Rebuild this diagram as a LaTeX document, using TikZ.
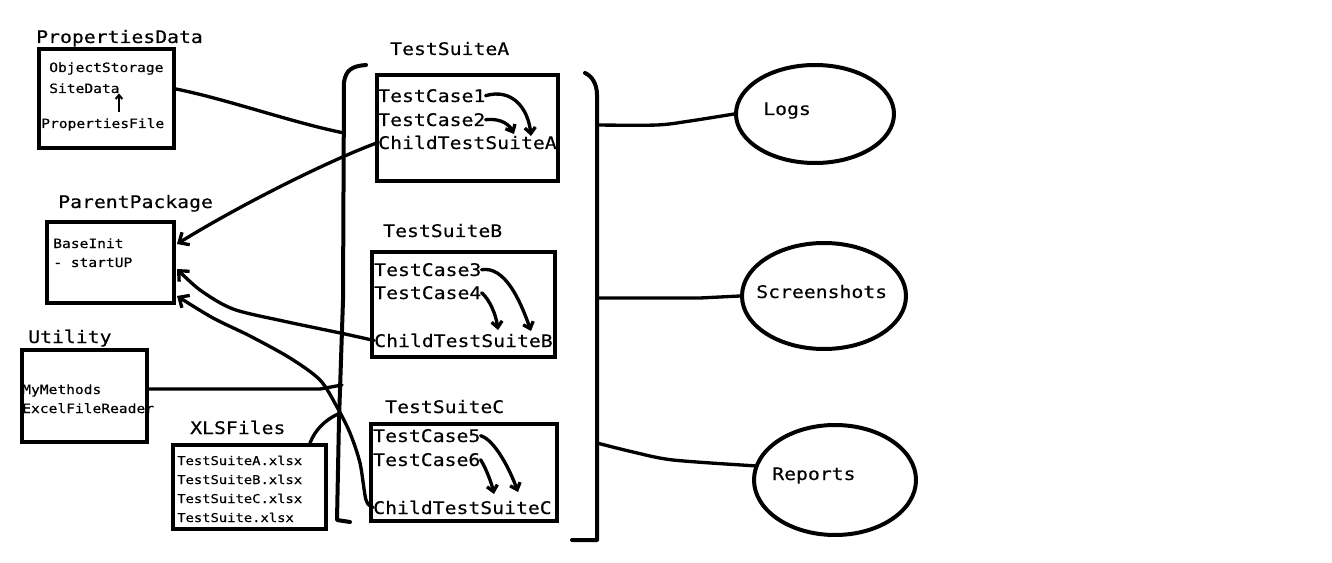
\documentclass[tikz,border=0pt]{standalone}
\usepackage{fontspec}
\newfontfamily\handmono[FakeStretch=1.14,FakeBold=0.4]{DejaVu Sans Mono}
\usetikzlibrary{arrows.meta,shapes.geometric,fit}
\tikzset{
  box/.style={draw, rectangle, line width=3pt, inner sep=0pt},
  oval/.style={draw, ellipse, line width=3pt, inner sep=0pt},
  bigtxt/.style={font=\handmono\fontsize{13}{15}\selectfont, inner sep=0pt, anchor=base west},
  smalltxt/.style={font=\handmono\fontsize{9.6}{11}\selectfont, inner sep=0pt, anchor=base west},
  xlstxt/.style={font=\handmono\fontsize{9.1}{11}\selectfont, inner sep=0pt, anchor=base west},
  wire/.style={line width=2.5pt, line cap=round, line join=round},
  brack/.style={line width=3pt, line cap=round, line join=round},
  bigarr/.style={wire, -{Straight Barb[length=6pt,width=11pt]}},
  smallarr/.style={wire, -{Straight Barb[length=4.5pt,width=8pt]}},
  tinyarr/.style={line width=1.5pt, -{Straight Barb[length=3pt,width=5pt]}}
}
\begin{document}
\begin{tikzpicture}[x=0.75pt,y=-0.75pt]
\fill[white] (0,0) rectangle (1332,563);
\useasboundingbox (0,0) rectangle (1332,563);

% PropertiesData
\node[bigtxt] (pdT) at (36,43) {PropertiesData};
\node[box, fit={(39,49) (174,148)}] (pd) {};
\node[smalltxt] (objst) at (49,72) {ObjectStorage};
\node[smalltxt] (sited) at (49,93) {SiteData};
\node[smalltxt] (propf) at (41,128) {PropertiesFile};
\coordinate (pfa) at (119,112);
\draw[tinyarr] (pfa) -- (sited.south -| pfa);

% ParentPackage
\node[bigtxt] (ppT) at (58,208) {ParentPackage};
\node[box, fit={(47,222) (174,303)}] (pp) {};
\node[smalltxt] (bini) at (53,248) {BaseInit};
\node[smalltxt] (stup) at (53,267) {- startUP};

% Utility
\node[bigtxt] (utT) at (28,343) {Utility};
\node[box, fit={(22,350) (147,442)}] (ut) {};
\node[smalltxt] (mym) at (22,394) {MyMethods};
\node[smalltxt] (efr) at (22,413) {ExcelFileReader};

% XLSFiles
\node[bigtxt] (xlsT) at (190,434) {XLSFiles};
\node[box, fit={(173,445) (326,529)}] (xls) {};
\node[xlstxt] (xa) at (177,465) {TestSuiteA.xlsx};
\node[xlstxt] (xb) at (177,484) {TestSuiteB.xlsx};
\node[xlstxt] (xc) at (177,503) {TestSuiteC.xlsx};
\node[xlstxt] (xd) at (177,522) {TestSuite.xlsx};

% TestSuiteA
\node[bigtxt] (tsAT) at (390,55) {TestSuiteA};
\node[box, fit={(377,75) (558,181)}] (tsA) {};
\node[bigtxt] (tc1) at (378,102) {TestCase1};
\node[bigtxt] (tc2) at (378,126) {TestCase2};
\node[bigtxt] (childA) at (378,149) {ChildTestSuiteA};

% TestSuiteB
\node[bigtxt] (tsBT) at (383,237) {TestSuiteB};
\node[box, fit={(372,252) (555,357)}] (tsB) {};
\node[bigtxt] (tc3) at (374,276) {TestCase3};
\node[bigtxt] (tc4) at (374,299) {TestCase4};
\node[bigtxt] (childB) at (374,347) {ChildTestSuiteB};

% TestSuiteC
\node[bigtxt] (tsCT) at (385,413) {TestSuiteC};
\node[box, fit={(371,424) (557,521)}] (tsC) {};
\node[bigtxt] (tc5) at (373,442) {TestCase5};
\node[bigtxt] (tc6) at (373,466) {TestCase6};
\node[bigtxt] (childC) at (373,514) {ChildTestSuiteC};

% Ellipses
\node[oval, minimum width=118.5pt, minimum height=73.5pt] (logs) at (815,114) {};
\node[bigtxt] (logsT) at (763,115) {Logs};
\node[oval, minimum width=123pt, minimum height=79.5pt] (scr) at (824,296) {};
\node[bigtxt] (scrT) at (756,298) {Screenshots};
\node[oval, minimum width=121.5pt, minimum height=82.5pt] (rep) at (835,480) {};
\node[bigtxt] (repT) at (772,480) {Reports};

% Brackets
\draw[brack] (366,65) .. controls (352,66) and (346,70) .. (344,82) -- (343,300) -- (339,420) -- (337,520) -- (350,522);
\draw[brack] (585,73) .. controls (592,76) and (597,84) .. (597,95) -- (597,540) -- (572,540);
\coordinate (brL1) at (344,133);
\coordinate (brL2) at (342,385);
\coordinate (brL3) at (338,414);
\coordinate (brR1) at (597,125);
\coordinate (brR2) at (597,298);
\coordinate (brR3) at (597,443);

% Left connectors
\draw[wire] (pd.east |- 0,89) .. controls (230,100) and (290,122) .. (brL1);
\draw[wire] (ut.east |- 0,389) -- (320,389) -- (brL2);
\draw[wire] (xls.north -| 310,0) .. controls (315,430) and (325,420) .. (brL3);

\coordinate (ppA) at (177,244);
\coordinate (ppB) at (177,269);
\coordinate (ppC) at (177,296);
\draw[bigarr] (childA.west) .. controls (330,160) and (240,205) .. (ppA);
\draw[bigarr] plot[smooth, tension=0.5] coordinates {(childB.west) (345,334) (283,321) (233,309) (200,290) (ppB)};
\draw[bigarr] plot[smooth, tension=0.5] coordinates {(childC.west) (366,500) (360,463) (350,433) (337,407) (320,380) (290,358) (250,336) (213,318) (ppC)};

% Right connectors
\draw[wire] plot[smooth, tension=0.5] coordinates {(brR1) (657,125) (690,121) (logs.west)};
\draw[wire] (brR2) -- (700,298) -- (scr.west);
\draw[wire] plot[smooth, tension=0.5] coordinates {(brR3) (633,452) (673,460) (rep.170)};

% Internal arrows
\coordinate (tA1) at (531,136);
\coordinate (tA2) at (514,134);
\coordinate (tB1) at (531,331);
\coordinate (tB2) at (498,330);
\coordinate (tC1) at (518,492);
\coordinate (tC2) at (494,494);
\draw[smallarr] (tc1.east) .. controls (512,88) and (528,108) .. (tA1);
\draw[smallarr] (tc2.east) .. controls (503,118) and (510,126) .. (tA2);
\draw[smallarr] (tc3.east) .. controls (505,266) and (520,300) .. (tB1);
\draw[smallarr] (tc4.east) .. controls (490,300) and (496,315) .. (tB2);
\draw[smallarr] (tc5.east) .. controls (495,440) and (510,470) .. (tC1);
\draw[smallarr] (tc6.east) .. controls (487,470) and (492,485) .. (tC2);
\end{tikzpicture}
\end{document}
